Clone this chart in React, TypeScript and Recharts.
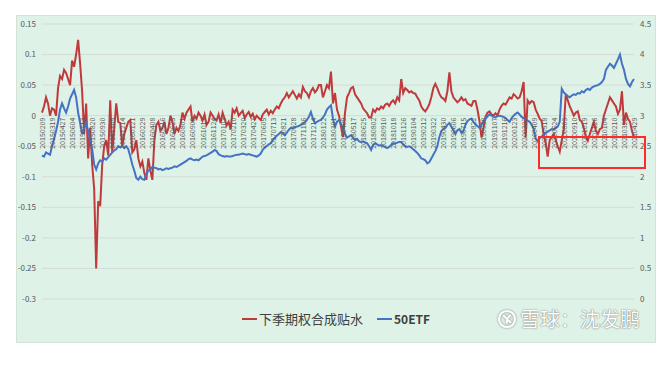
import { LineChart, Line, XAxis, YAxis, CartesianGrid } from 'recharts'

// category labels shown every 5th point
const tickDates = [
  '20150209', '20150319', '20150427', '20150604', '20150713', '20150820', '20150930', '20151105', '20151214', '20160121',
  '20160229', '20160408', '20160516', '20160623', '20160801', '20160908', '20161017', '20161124', '20170103', '20170210',
  '20170320', '20170427', '20170605', '20170713', '20170821', '20170928', '20171106', '20171214', '20180122', '20180301',
  '20180409', '20180517', '20180625', '20180802', '20180910', '20181018', '20181126', '20190104', '20190212', '20190322',
  '20190430', '20190606', '20190715', '20190822', '20190930', '20191107', '20191216', '20200123', '20200302', '20200409',
  '20200518', '20200624', '20200803', '20200910', '20201019', '20201126', '20210104', '20210210', '20210322', '20210429',
]

// 下季期权合成贴水 (left axis)
const discountValues = [
  0.005, 0.015, 0.03, 0.02, 0, 0.012, 0.01, 0, 0.045, 0.065,
  0.06, 0.075, 0.07, 0.06, 0.05, 0.09, 0.08, 0.1, 0.124, 0.085,
  0.04, -0.03, 0.02, -0.07, -0.02, -0.08, -0.12, -0.25, -0.14, -0.148,
  -0.08, -0.05, -0.04, -0.065, 0.025, -0.06, -0.02, 0.02, -0.01, -0.012,
  -0.05, -0.03, -0.02, -0.01, -0.007, -0.06, -0.055, -0.04, -0.07, -0.083,
  -0.075, -0.094, -0.105, -0.07, -0.09, -0.105, -0.04, -0.015, -0.01, -0.025,
  -0.02, -0.01, -0.03, -0.02, 0, -0.01, -0.03, -0.02, -0.025, -0.015,
  0.005, -0.005, 0.005, 0.01, 0.015, -0.01, 0, -0.005, 0.005, 0,
  -0.008, 0.002, -0.015, -0.01, 0.005, 0, -0.005, -0.008, 0.002, -0.012,
  0.005, -0.005, -0.016, -0.01, -0.023, 0.01, 0.005, 0.012, 0, 0.004,
  0.008, -0.004, 0.002, 0.006, -0.002, 0.003, -0.006, 0, -0.004, -0.007,
  0.002, 0.006, 0.01, 0.002, 0.008, 0.004, 0.01, 0.015, 0.012, 0.02,
  0.026, 0.03, 0.037, 0.03, 0.035, 0.04, 0.034, 0.028, 0.035, 0.03,
  0.047, 0.04, 0.037, 0.03, 0.04, 0.045, 0.038, 0.042, 0.05, 0.05,
  0.03, 0.04, 0.05, 0.045, 0.072, 0.02, 0.037, 0.01, 0, -0.018,
  -0.035, 0.005, 0.03, 0.037, 0.045, 0.047, 0.035, 0.03, 0.025, 0.02,
  0.012, 0.008, 0.004, -0.003, -0.003, 0.01, 0.006, 0.012, 0.01, 0.015,
  0.012, 0.018, 0.02, 0.016, 0.022, 0.025, 0.02, 0.03, 0.025, 0.06,
  0.037, 0.045, 0.042, 0.038, 0.04, 0.037, 0.036, 0.03, 0.025, 0.015,
  0.01, 0.007, 0.012, 0.019, 0.03, 0.045, 0.052, 0.045, 0.036, 0.03,
  0.028, 0.024, 0.04, 0.071, 0.04, 0.03, 0.026, 0.022, 0.025, 0.03,
  0.025, 0.027, 0.02, 0.018, 0.016, 0.024, 0.024, 0.01, -0.009, -0.036,
  -0.02, -0.002, 0.005, 0.007, 0.002, 0, 0.004, 0, 0.01, 0.016,
  0.02, 0.018, 0.024, 0.03, 0.028, 0.035, 0.032, 0.028, 0.03, 0.04,
  0.055, -0.036, 0.025, 0.02, 0.024, 0.022, 0.01, 0.003, -0.005, -0.009,
  -0.031, -0.045, -0.067, -0.04, -0.035, -0.03, -0.04, -0.05, -0.059, -0.04,
  -0.023, 0.035, 0.025, 0.015, 0.008, 0, 0.005, 0.007, -0.007, -0.01,
  -0.02, -0.035, -0.041, -0.03, -0.02, -0.01, -0.025, -0.03, -0.022, -0.02,
  0, 0.01, 0.02, 0.03, 0.025, 0.02, 0.015, 0.003, 0.01, 0.04,
  -0.015, 0.005, -0.005, -0.01, -0.025, -0.035,
]

// 50ETF (right axis)
const etfValues = [
  2.35, 2.33, 2.4, 2.38, 2.36, 2.5, 2.62, 2.75, 2.9, 3.1,
  3.2, 3.12, 3.05, 3.15, 3.28, 3.35, 3.42, 3.3, 3.05, 2.88,
  2.7, 2.8, 2.88, 2.75, 2.6, 2.45, 2.2, 2.12, 2.22, 2.27,
  2.25, 2.3, 2.28, 2.32, 2.36, 2.4, 2.43, 2.45, 2.5, 2.48,
  2.5, 2.47, 2.5, 2.45, 2.33, 2.2, 2.1, 1.98, 1.95, 2.0,
  1.96, 1.95, 2.05, 2.1, 2.12, 2.16, 2.15, 2.14, 2.12, 2.13,
  2.11, 2.12, 2.14, 2.13, 2.14, 2.15, 2.17, 2.16, 2.18, 2.2,
  2.22, 2.24, 2.26, 2.29, 2.3, 2.28, 2.27, 2.28, 2.27, 2.3,
  2.33, 2.34, 2.35, 2.37, 2.39, 2.41, 2.44, 2.42, 2.37, 2.35,
  2.34, 2.33, 2.34, 2.33, 2.33, 2.34, 2.35, 2.36, 2.36, 2.37,
  2.38, 2.37, 2.36, 2.37, 2.36, 2.35, 2.34, 2.33, 2.35, 2.38,
  2.44, 2.48, 2.5, 2.53, 2.55, 2.6, 2.64, 2.67, 2.7, 2.73,
  2.72, 2.68, 2.72, 2.77, 2.8, 2.79, 2.81, 2.82, 2.83, 2.85,
  2.87, 2.89, 2.93, 2.98, 3.06, 2.95, 2.88, 2.9, 2.92, 2.93,
  2.97, 3.02, 3.1, 3.14, 3.17, 2.95, 2.82, 2.9, 2.93, 2.86,
  2.8, 2.7, 2.64, 2.66, 2.68, 2.64, 2.6, 2.62, 2.58, 2.57,
  2.58, 2.56, 2.55, 2.5, 2.44, 2.52, 2.55, 2.53, 2.51, 2.52,
  2.5, 2.49, 2.47, 2.49, 2.52, 2.55, 2.54, 2.56, 2.57, 2.57,
  2.53, 2.5, 2.49, 2.5, 2.48, 2.45, 2.42, 2.39, 2.35, 2.3,
  2.29, 2.27, 2.22, 2.24, 2.3, 2.36, 2.42, 2.5, 2.65, 2.75,
  2.78, 2.8, 2.85, 2.88, 2.82, 2.76, 2.7, 2.76, 2.78, 2.72,
  2.75, 2.85, 2.91, 2.94, 2.95, 2.9, 2.86, 2.83, 2.8, 2.85,
  2.92, 2.95, 2.99, 3.02, 3.0, 2.98, 2.97, 3.0, 3.0, 2.99,
  2.98, 2.96, 2.93, 2.9, 2.96, 3.0, 3.03, 3.05, 3.02, 2.98,
  2.96, 2.93, 2.92, 2.9, 2.85, 2.78, 2.62, 2.58, 2.63, 2.66,
  2.68, 2.72, 2.74, 2.76, 2.78, 2.77, 2.8, 2.82, 2.9, 3.44,
  3.38, 3.35, 3.32, 3.3, 3.33, 3.35, 3.34, 3.37, 3.36, 3.4,
  3.38, 3.42, 3.44, 3.42, 3.46, 3.48, 3.49, 3.5, 3.52, 3.55,
  3.6, 3.75, 3.8, 3.85, 3.82, 3.78, 3.85, 3.92, 4.0, 3.85,
  3.75, 3.6, 3.52, 3.48, 3.55, 3.6,
]

const leftTicks = [0.15, 0.1, 0.05, 0, -0.05, -0.1, -0.15, -0.2, -0.25, -0.3]
const rightTicks = [4.5, 4, 3.5, 3, 2.5, 2, 1.5, 1, 0.5, 0]

const chartData = discountValues.map((v, i) => ({ idx: i, discount: v, etf: etfValues[i] }))

const FONT = "'Noto Sans CJK SC', 'Liberation Sans', sans-serif"
const RED = '#c0393b'
const BLUE = '#4472c4'
const PLOT_TOP = 24
const PLOT_H = 275
// category axis crosses the value axis at 0
const zeroY = PLOT_TOP + PLOT_H * (0.15 / 0.45)

function DateTick({ x, payload }: any) {
  const label = tickDates[payload.value / 5]
  if (!label) return null
  const y = zeroY + 2
  return (
    <text
      x={x}
      y={y}
      transform={`rotate(-90 ${x} ${y})`}
      textAnchor='end'
      dominantBaseline='central'
      fontSize={7}
      fill='#595959'
      fontFamily={FONT}
    >
      {label}
    </text>
  )
}

export default function App() {
  return (
    <div style={{ position: 'absolute', left: 0, top: 0, width: 666, height: 368, background: '#fff', fontFamily: FONT }}>
      <div
        style={{
          position: 'absolute',
          left: 16,
          top: 15,
          width: 640,
          height: 328,
          background: '#def2e7',
          border: '1px solid #d3e3da',
          boxSizing: 'border-box',
        }}
      />
      <div style={{ position: 'absolute', left: 0, top: 0 }}>
        <LineChart width={666} height={368} data={chartData} margin={{ top: PLOT_TOP, right: 0, bottom: 68, left: 16 }}>
          <CartesianGrid yAxisId='left' vertical={false} stroke='#d4dcd7' strokeWidth={1} />
          <XAxis
            dataKey='idx'
            interval={4}
            height={1}
            axisLine={false}
            tickLine={false}
            tick={<DateTick />}
          />
          <YAxis
            yAxisId='left'
            domain={[-0.3, 0.15]}
            ticks={leftTicks}
            width={26}
            axisLine={false}
            tickLine={false}
            tickSize={4}
            tick={{ fontSize: 8, fill: '#595959', fontFamily: FONT }}
          />
          <YAxis
            yAxisId='right'
            orientation='right'
            domain={[0, 4.5]}
            ticks={rightTicks}
            width={32}
            axisLine={false}
            tickLine={false}
            tickSize={4}
            tick={{ fontSize: 8, fill: '#595959', fontFamily: FONT, textAnchor: 'start' }}
          />
          <Line
            yAxisId='left'
            type='linear'
            dataKey='discount'
            stroke={RED}
            strokeWidth={2}
            dot={false}
            isAnimationActive={false}
          />
          <Line
            yAxisId='right'
            type='linear'
            dataKey='etf'
            stroke={BLUE}
            strokeWidth={2}
            dot={false}
            isAnimationActive={false}
          />
        </LineChart>
      </div>

      {/* legend */}
      <div
        style={{
          position: 'absolute',
          left: 242,
          top: 309,
          display: 'flex',
          alignItems: 'center',
          fontSize: 13,
          color: '#404040',
          whiteSpace: 'nowrap',
        }}
      >
        <span style={{ display: 'inline-block', width: 15, height: 2, background: RED, marginRight: 2 }} />
        <span>下季期权合成贴水</span>
        <span style={{ display: 'inline-block', width: 15, height: 2, background: BLUE, marginLeft: 14, marginRight: 2 }} />
        <span style={{ fontWeight: 700, fontSize: 12 }}>50ETF</span>
      </div>

      {/* watermark */}
      <div
        style={{
          position: 'absolute',
          left: 497,
          top: 304,
          display: 'flex',
          alignItems: 'center',
          fontSize: 20,
          color: '#ffffff',
          textShadow: '0 0 1px rgba(0,0,0,0.5), 0 0 2px rgba(0,0,0,0.3)',
          whiteSpace: 'nowrap',
        }}
      >
        <svg width={20} height={20} style={{ marginRight: 3, filter: 'drop-shadow(0 0 1px rgba(0,0,0,0.45))' }}>
          <circle cx={10} cy={10} r={8} fill='none' stroke='#fff' strokeWidth={2.2} />
          <path d='M6 6 L14 14 M14 6 Q9 9 10 14' fill='none' stroke='#fff' strokeWidth={2} />
        </svg>
        <span>雪球：沈发鹏</span>
      </div>

      {/* annotation box */}
      <div
        style={{
          position: 'absolute',
          left: 538,
          top: 136,
          width: 108,
          height: 33,
          border: '2px solid #ff2a2a',
          boxSizing: 'border-box',
        }}
      />
    </div>
  )
}
